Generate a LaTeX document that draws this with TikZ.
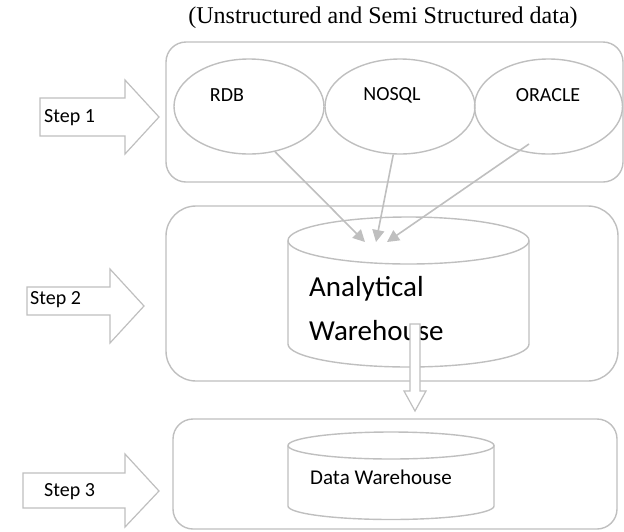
\documentclass[tikz,border=0pt]{standalone}
\usepackage{fontspec}
\setmainfont{Carlito}
\newfontfamily\titlefont{Liberation Serif}
\usetikzlibrary{shapes.geometric,arrows.meta}
\definecolor{lg}{HTML}{BFBFBF}
\begin{document}
\begin{tikzpicture}[x=1pt,y=-1pt,
  outl/.style={draw=lg,line width=1.4pt},
  stepshape/.style={draw=lg,line width=1.2pt,fill=white},
  src/.style={ellipse,draw=lg,line width=1.4pt,minimum height=95pt,inner sep=0pt},
  lbl/.style={font=\fontsize{20}{24}\selectfont,inner sep=0pt},
  feed/.style={draw=lg,line width=1.6pt,-{Triangle[length=12pt,width=12pt]}},
]
\useasboundingbox (0,0) rectangle (624,531);

% title
\node[font=\titlefont\fontsize{24}{28}\selectfont,inner sep=0pt] (title) at (383,18) {(Unstructured and Semi Structured data)};

% group boxes
\draw[outl,rounded corners=20pt] (166,42) rectangle (623,182);
\draw[outl,rounded corners=30pt] (166,206) rectangle (618,381);
\draw[outl,rounded corners=20pt] (173,419) rectangle (617,529);

% sources
\node[src,minimum width=150pt] (rdb) at (249,106.5) {};
\node[src,minimum width=150pt] (nosql) at (400,106.5) {};
\node[src,minimum width=148pt] (oracle) at (548.5,106.5) {};
\node[lbl] (rdbt) at (227,95) {RDB};
\node[lbl] (nosqlt) at (392,95) {NOSQL};
\node[lbl] (oraclet) at (548,95) {ORACLE};

% analytical warehouse cylinder
\draw[outl] (288,240.5) -- (288,344) arc[start angle=180,end angle=0,x radius=120.5,y radius=23] -- (529,240.5);
\draw[outl] (408.5,240.5) ellipse[x radius=120.5,y radius=23.5];
\node[font=\fontsize{29}{44}\selectfont,align=left,anchor=west,inner sep=0pt] (awt) at (309,309) {Analytical\\Warehouse};

% data warehouse cylinder
\draw[outl] (288,445.5) -- (288,506) arc[start angle=180,end angle=0,x radius=103,y radius=13.5] -- (494,445.5);
\draw[outl] (391,445.5) ellipse[x radius=103,y radius=13.5];
\node[font=\fontsize{21}{25}\selectfont,anchor=west,inner sep=0pt] (dwt) at (310,477) {Data Warehouse};

% feeds
\coordinate (in1) at (365,242);
\coordinate (in2) at (376,242);
\coordinate (in3) at (387,242);
\coordinate (orout) at (529,144);
\draw[feed] (rdb.-60) -- (in1);
\draw[feed] (nosql.-98) -- (in2);
\draw[feed] (orout) -- (in3);

% hollow down arrow
\draw[stepshape] (410,324) -- (420,324) -- (420,391) -- (426,391) -- (415,411) -- (404,391) -- (410,391) -- cycle;

% step arrows
\draw[stepshape] (40,98) -- (125,98) -- (125,80) -- (159,117) -- (125,154) -- (125,136) -- (40,136) -- cycle;
\draw[stepshape] (27,287) -- (110,287) -- (110,269) -- (144,306) -- (110,343) -- (110,315) -- (27,315) -- cycle;
\draw[stepshape] (23,473) -- (125,473) -- (125,454) -- (159,491) -- (125,527) -- (125,508) -- (23,508) -- cycle;
\node[lbl,anchor=west] (s1) at (44,118) {Step 1};
\node[lbl,anchor=west] (s2) at (30,300) {Step 2};
\node[lbl,anchor=west] (s3) at (44,492) {Step 3};
\end{tikzpicture}
\end{document}
